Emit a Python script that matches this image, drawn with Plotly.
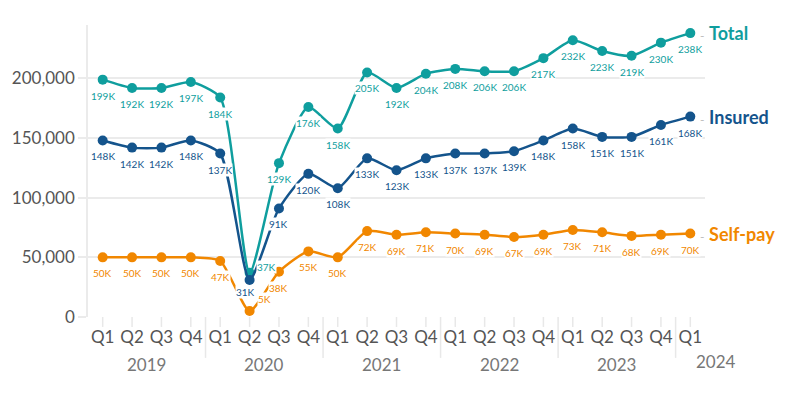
import plotly.graph_objects as go

quarters = ["Q1", "Q2", "Q3", "Q4"] * 5 + ["Q1"]
years = ["2019", "2020", "2021", "2022", "2023", "2024"]
total = [199, 192, 192, 197, 184, 37, 129, 176, 158, 205, 192, 204, 208, 206, 206, 217, 232, 223, 219, 230, 238]
insured = [148, 142, 142, 148, 137, 31, 91, 120, 108, 133, 123, 133, 137, 137, 139, 148, 158, 151, 151, 161, 168]
selfpay = [50, 50, 50, 50, 47, 5, 38, 55, 50, 72, 69, 71, 70, 69, 67, 69, 73, 71, 68, 69, 70]

series = [
    ("Total", total, "#0f9e9e"),
    ("Insured", insured, "#14548c"),
    ("Self-pay", selfpay, "#f18700"),
]

x = list(range(len(quarters)))
fig = go.Figure()
annotations = []
for name, vals, color in series:
    yv = [v * 1000 for v in vals]
    fig.add_trace(go.Scatter(
        x=x, y=yv, mode="lines+markers", name=name,
        line=dict(color=color, width=2.5, shape="spline", smoothing=0.6),
        marker=dict(color=color, size=10),
        showlegend=False, hoverinfo="skip", cliponaxis=False,
    ))

# label offsets for the crowded 2020 Q2 point
special = {("Total", 5): (17, 6), ("Insured", 5): (-4, -12), ("Self-pay", 5): (15, 12)}
for name, vals, color in series:
    for i, v in enumerate(vals):
        xs, ys = special.get((name, i), (0, -16))
        annotations.append(dict(
            x=i, y=v * 1000, xref="x", yref="y", text=f"{v}K",
            showarrow=False, xshift=xs, yshift=ys,
            font=dict(family="Lato", size=10, color=color),
            bgcolor="rgba(255,255,255,1)", borderpad=0,
        ))
    annotations.append(dict(
        x=len(vals) - 1, y=vals[-1] * 1000, xref="x", yref="y",
        text=f"<span style='color:#bbbbbb;font-weight:normal;font-size:12px'>-</span> <b>{name}</b>",
        showarrow=False, xanchor="left", xshift=8, yshift=0,
        font=dict(family="Lato", size=18, color=color),
    ))

# year labels (group centres; last one offset to the right)
year_pos = [1.5, 5.5, 9.5, 13.5, 17.5, 20]
year_shift = [0, 0, 0, 0, 0, 26]
for yr, px, sh in zip(years, year_pos, year_shift):
    annotations.append(dict(
        x=px, y=-0.164, xref="x", yref="paper", text=yr, showarrow=False,
        xshift=sh, yanchor="middle", yshift=(3 if yr == "2024" else 0),
        font=dict(family="Lato", size=17, color="#777777"),
    ))

shapes = []
for b in [3.5, 7.5, 11.5, 15.5, 19.5]:
    shapes.append(dict(type="line", xref="x", yref="paper", x0=b, x1=b, y0=0, y1=-0.14,
                       line=dict(color="#e8e8e8", width=1.5)))
for xi in x:
    shapes.append(dict(type="line", xref="x", yref="paper", x0=xi, x1=xi, y0=0, y1=-0.034,
                       line=dict(color="#e8e8e8", width=1.5)))

fig.update_layout(
    width=800, height=400,
    margin=dict(l=88, r=95, t=25, b=83),
    plot_bgcolor="white", paper_bgcolor="white",
    annotations=annotations, shapes=shapes,
    font=dict(family="Lato", color="#555555"),
)
fig.update_xaxes(
    range=[-0.5, 20.5], tickvals=x, ticktext=quarters,
    showgrid=False, zeroline=False, showline=False,
    ticks="outside", ticklen=5, tickcolor="rgba(0,0,0,0)",
    tickfont=dict(family="Lato", size=17, color="#555555"),
)
fig.update_yaxes(
    range=[0, 244800], tickvals=[0, 50000, 100000, 150000, 200000],
    tickformat=",d", showgrid=True, gridcolor="#ebebeb", gridwidth=1.5,
    zeroline=False, showline=True, linecolor="#ebebeb", linewidth=1.5,
    ticks="outside", ticklen=8, tickcolor="#ebebeb", tickwidth=1.5,
    tickfont=dict(family="Lato", size=17, color="#555555"),
)

fig.write_html("out.html", config={"displayModeBar": False},
               post_script="document.body.style.margin='0';")
